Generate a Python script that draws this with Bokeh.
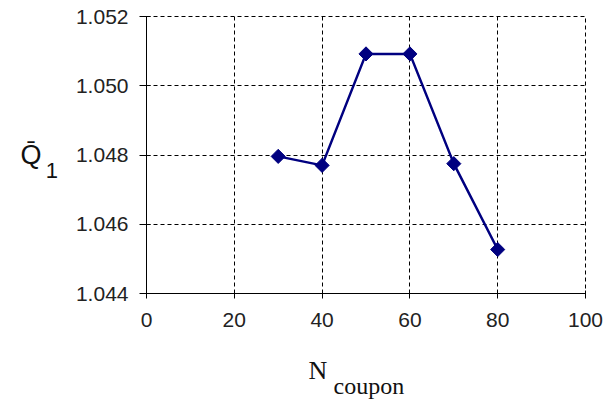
from bokeh.plotting import figure
from bokeh.models import FixedTicker, Range1d, Title, NumeralTickFormatter, LinearAxis
from bokeh.embed import file_html
from bokeh.resources import INLINE
import math

n_coupon = [30, 40, 50, 60, 70, 80]
q1_mean = [1.04796, 1.04770, 1.05092, 1.05092, 1.04775, 1.04527]
x_ticks = [0, 20, 40, 60, 80, 100]
y_ticks = [1.044, 1.046, 1.048, 1.050, 1.052]

p = figure(frame_width=439, frame_height=277, output_backend="svg", toolbar_location=None,
           x_range=Range1d(0, 100), y_range=Range1d(1.044, 1.052),
           min_border_left=146, min_border_top=16, min_border_right=21, min_border_bottom=106)
p.outline_line_color = "black"
p.outline_line_dash = "4 3"
p.outline_line_width = 1
p.background_fill_color = "white"
p.border_fill_color = "white"

for ax in (p.xaxis[0], p.yaxis[0]):
    ax.axis_line_color = "black"
    ax.axis_line_width = 1
    ax.major_tick_line_color = "black"
    ax.minor_tick_line_color = None
    ax.major_label_text_font = "Liberation Sans"
    ax.major_label_text_font_size = "21px"
    ax.major_label_text_color = "#222222"

p.xaxis.ticker = FixedTicker(ticks=x_ticks)
p.yaxis.ticker = FixedTicker(ticks=y_ticks)
p.yaxis.formatter = NumeralTickFormatter(format="0.000")
p.xaxis.major_tick_out = 5
p.xaxis.major_tick_in = 3
p.yaxis.major_tick_out = 7
p.yaxis.major_tick_in = 4
p.xaxis.major_label_standoff = 14
p.yaxis.major_label_standoff = 11

# subscript "1" of the y label, on the main y axis
yax = p.yaxis[0]
yax.axis_label = "\n1"
yax.axis_label_orientation = "horizontal"
yax.axis_label_text_font = "Liberation Sans"
yax.axis_label_text_font_size = "22px"
yax.axis_label_text_font_style = "normal"
yax.axis_label_text_color = "#111111"
yax.axis_label_standoff = 15

# main symbol "Q-bar" of the y label, on an extra bare axis further left
qax = LinearAxis(ticker=FixedTicker(ticks=[]), axis_label="Q\u0304",
                 axis_line_color=None, major_tick_line_color=None, minor_tick_line_color=None)
qax.axis_label_orientation = "horizontal"
qax.axis_label_text_font = "Liberation Sans"
qax.axis_label_text_font_size = "27px"
qax.axis_label_text_font_style = "normal"
qax.axis_label_text_color = "#111111"
qax.axis_label_standoff = 1
p.add_layout(qax, "left")

for g in (p.xgrid[0], p.ygrid[0]):
    g.grid_line_color = "black"
    g.grid_line_dash = "4 3"
    g.grid_line_width = 1

p.line(n_coupon, q1_mean, line_color="#000080", line_width=2.5)
p.scatter(n_coupon, q1_mean, marker="square", angle=math.pi / 4, size=10,
          fill_color="#000080", line_color="#000080")

p.add_layout(Title(text="N", align="left", offset=162, standoff=52, vertical_align="top",
                   text_font="Liberation Serif", text_font_size="26px",
                   text_font_style="normal", text_color="#111111"), "below")
p.add_layout(Title(text="coupon", align="left", offset=187, standoff=-79, vertical_align="top",
                   text_font="Liberation Serif", text_font_size="24px",
                   text_font_style="normal", text_color="#111111"), "below")

open("out.html", "w").write(file_html(p, INLINE))
